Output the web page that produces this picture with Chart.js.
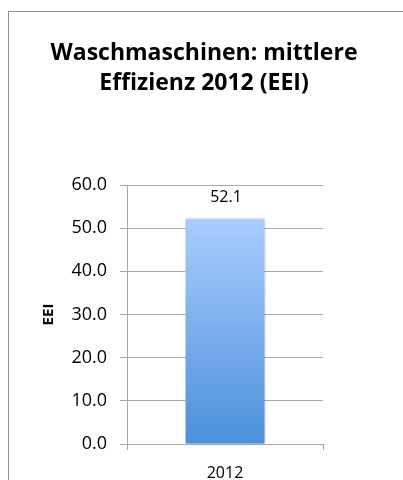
<!DOCTYPE html>
<html>
<head>
<meta charset="utf-8">
<script src="https://cdn.jsdelivr.net/npm/chart.js@4/dist/chart.umd.min.js"></script>
<style>
  html, body { margin: 0; padding: 0; background: #fff; }
  #wrap { position: relative; width: 403px; height: 480px; overflow: hidden; }
  #frame {
    position: absolute; left: 8px; top: 11px; width: 420px; height: 500px;
    border: 1px solid #8e8e8e; pointer-events: none;
  }
</style>
</head>
<body>
<div id="wrap">
  <canvas id="c" width="403" height="480"></canvas>
  <div id="frame"></div>
</div>
<script>
// data
const categories = ["2012"];
const eeiValues = [52.1];
const titleLines = ["Waschmaschinen: mittlere", "Effizienz 2012 (EEI)"];
const yTitle = "EEI";
const yMin = 0, yMax = 60, yStep = 10;

const FONT = "'Open Sans', Lato, sans-serif";

// chart title, centred on the whole frame (not just the plot)
const frameTitle = {
  id: "frameTitle",
  afterDraw(chart) {
    const ctx = chart.ctx;
    ctx.save();
    ctx.fillStyle = "#000";
    ctx.font = "bold 23px " + FONT;
    ctx.textAlign = "center";
    ctx.textBaseline = "middle";
    titleLines.forEach((line, i) => ctx.fillText(line, 204, 53 + i * 30));
    ctx.restore();
  },
};

// value label above the bar
const valueLabels = {
  id: "valueLabels",
  afterDatasetsDraw(chart) {
    const ctx = chart.ctx;
    const meta = chart.getDatasetMeta(0);
    ctx.save();
    ctx.fillStyle = "#000";
    ctx.font = "16px " + FONT;
    ctx.textAlign = "center";
    ctx.textBaseline = "middle";
    meta.data.forEach((bar, i) => {
      ctx.fillText(eeiValues[i].toFixed(1), bar.x + 1, bar.y - 22);
    });
    ctx.restore();
  },
};

// soft shadow behind the bar
const barShadow = {
  id: "barShadow",
  beforeDatasetsDraw(chart) {
    const ctx = chart.ctx;
    ctx.save();
    ctx.shadowColor = "rgba(0,0,0,0.25)";
    ctx.shadowBlur = 3;
    ctx.shadowOffsetX = 1;
    ctx.shadowOffsetY = 0;
  },
  afterDatasetsDraw(chart) {
    chart.ctx.restore();
  },
};

function barGradient(context) {
  const chart = context.chart;
  const area = chart.chartArea;
  if (!area) return "#74a9ea";
  const yScale = chart.scales.y;
  const top = yScale.getPixelForValue(eeiValues[0]);
  const g = chart.ctx.createLinearGradient(0, area.bottom, 0, top);
  g.addColorStop(0, "#4a90d9");
  g.addColorStop(1, "#a9ccfd");
  return g;
}

new Chart(document.getElementById("c"), {
  type: "bar",
  data: {
    labels: categories,
    datasets: [{
      data: eeiValues,
      backgroundColor: barGradient,
      borderWidth: 0,
      categoryPercentage: 1,
      barPercentage: 0.403,
    }],
  },
  options: {
    responsive: false,
    animation: false,
    layout: { padding: { left: 0, right: 80, top: 185, bottom: 0 } },
    plugins: {
      legend: { display: false },
      tooltip: { enabled: false },
      title: { display: false },
    },
    scales: {
      x: {
        offset: true,
        grid: {
          offset: true,
          drawOnChartArea: false,
          drawTicks: true,
          tickLength: 6,
          color: "#a6a6a6",
        },
        border: { color: "#a6a6a6" },
        ticks: { color: "#000", font: { family: FONT, size: 16 }, padding: 14 },
        afterFit(scale) { scale.height = 36; },
      },
      y: {
        min: yMin,
        max: yMax,
        grid: { color: "#a6a6a6", tickLength: 7 },
        border: { color: "#a6a6a6" },
        ticks: {
          stepSize: yStep,
          color: "#000",
          font: { family: FONT, size: 18 },
          padding: 13,
          callback: v => Number(v).toFixed(1),
        },
        title: {
          display: true,
          text: yTitle,
          color: "#000",
          font: { family: FONT, size: 15, weight: "bold" },
          padding: { top: 40, bottom: 0 },
        },
        afterFit(scale) { scale.width = 127; },
      },
    },
  },
  plugins: [barShadow, valueLabels, frameTitle],
});
</script>
</body>
</html>
